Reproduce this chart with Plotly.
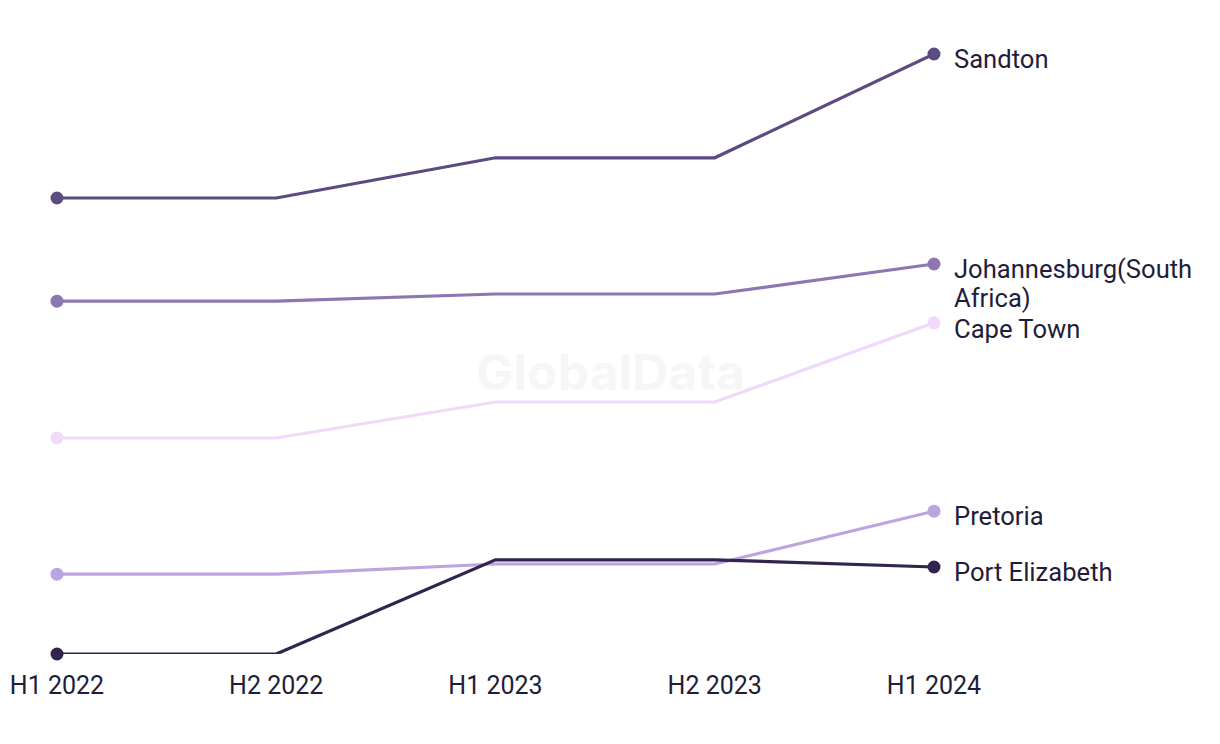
import plotly.graph_objects as go

periods = ["H1 2022", "H2 2022", "H1 2023", "H2 2023", "H1 2024"]
series_names = ["Sandton", "Johannesburg(South<br>Africa)", "Cape Town", "Pretoria", "Port Elizabeth"]
sandton = [76.0, 76.0, 82.7, 82.7, 100.0]
johannesburg = [58.8, 58.8, 60.0, 60.0, 65.0]
cape_town = [36.0, 36.0, 42.0, 42.0, 55.2]
pretoria = [13.3, 13.3, 15.0, 15.0, 23.8]
port_elizabeth = [0.0, 0.0, 15.7, 15.7, 14.5]
colors = ["#5c4a80", "#8d77b2", "#f0d9fb", "#bca4e1", "#33234f"]

values = [sandton, johannesburg, cape_town, pretoria, port_elizabeth]
xs = list(range(len(periods)))

fig = go.Figure()
fig.add_annotation(
    x=0.6306, y=0.47, xref="paper", yref="paper", text="<b>GlobalData</b>",
    showarrow=False, font=dict(family="Inter", size=50, color="#f6f6f6"))

order = [2, 3, 1, 0, 4]
for i in order:
    v = values[i]
    fig.add_trace(go.Scatter(
        x=xs, y=v, mode="lines", line=dict(color=colors[i], width=3.2),
        showlegend=False, hoverinfo="skip", cliponaxis=False))
    fig.add_trace(go.Scatter(
        x=[xs[0], xs[-1]], y=[v[0], v[-1]], mode="markers",
        marker=dict(color=colors[i], size=13), showlegend=False,
        cliponaxis=False, hoverinfo="skip"))

font_family = "Roboto"
text_color = "#1f1d3a"
yshifts = [-5, -5, -6, -5, -5]
line_gap = 29
for i, name in enumerate(series_names):
    for k, part in enumerate(name.split("<br>")):
        fig.add_annotation(
            x=xs[-1], y=values[i][-1], text=part, showarrow=False,
            xanchor="left", yanchor="middle",
            align="left", xshift=18, yshift=yshifts[i] - line_gap * k,
            font=dict(family=font_family, size=25.6, color=text_color))

fig.update_layout(
    width=1220, height=744,
    margin=dict(l=49, r=294, t=46, b=98, autoexpand=False),
    paper_bgcolor="white", plot_bgcolor="white",
    xaxis=dict(range=[0, 4], tickvals=xs, ticktext=periods, showgrid=False,
               zeroline=False, showline=False, ticks="", ticklabelstandoff=14,
               automargin=False,
               tickfont=dict(family=font_family, size=25, color=text_color)),
    yaxis=dict(range=[0, 100], visible=False, showgrid=False, automargin=False),
)

fig.write_html("out.html")
